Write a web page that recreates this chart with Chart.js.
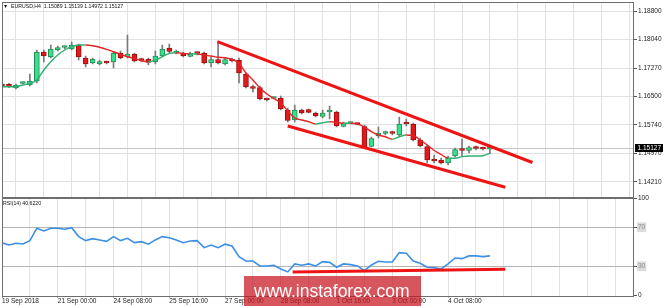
<!DOCTYPE html>
<html>
<head>
<meta charset="utf-8">
<script src="https://cdn.jsdelivr.net/npm/chart.js@4.4.1/dist/chart.umd.min.js"></script>
<style>
  html, body { margin: 0; padding: 0; background: #fff; }
  #wrap { position: relative; width: 664px; height: 307px; overflow: hidden; background: #fff; }
  #price { position: absolute; left: 0; top: 0; }
  #rsi { position: absolute; left: 0; top: 190px; }
</style>
</head>
<body>
<div id="wrap">
  <canvas id="price" width="664" height="198"></canvas>
  <canvas id="rsi" width="664" height="117"></canvas>
</div>
<script>
// EURUSD H4 candles
const symbol = 'EURUSD,H4';
const timeLabels = ['19 Sep 2018', '21 Sep 00:00', '24 Sep 08:00', '25 Sep 16:00', '27 Sep 00:00',
  '28 Sep 08:00', '1 Oct 16:00', '3 Oct 00:00', '4 Oct 08:00'];
const priceTicks = [1.18800, 1.18040, 1.17270, 1.16500, 1.15740, 1.14970, 1.14210];
const rsiTicks = [0, 30, 70, 100];

const open = [1.16840, 1.16830, 1.16733, 1.16854, 1.16813, 1.16921, 1.17699, 1.17565, 1.17753, 1.17820,
  1.17780, 1.17887, 1.17538, 1.17404, 1.17377, 1.17431, 1.17431, 1.17672, 1.17565, 1.17646,
  1.17485, 1.17511, 1.17431, 1.17592, 1.17807, 1.17672, 1.17672, 1.17579, 1.17672, 1.17672,
  1.17404, 1.17498, 1.17377, 1.17498, 1.17485, 1.17109, 1.16760, 1.16746, 1.16424, 1.16451,
  1.16464, 1.16142, 1.15874, 1.16142, 1.16156, 1.16062, 1.15968, 1.16089, 1.16089, 1.15699,
  1.15780, 1.15780, 1.15699, 1.15162, 1.15444, 1.15511, 1.15525, 1.15471, 1.15793, 1.15766,
  1.15337, 1.15162, 1.14800, 1.14800, 1.14719, 1.14907, 1.15082, 1.15055, 1.15122, 1.15109,
  1.15089];
const high = [1.16867, 1.16860, 1.16840, 1.16894, 1.17109, 1.17753, 1.17753, 1.17887, 1.17860, 1.17860,
  1.17968, 1.17914, 1.17592, 1.17538, 1.17485, 1.17458, 1.17699, 1.17726, 1.18156, 1.17672,
  1.17538, 1.17538, 1.17726, 1.17887, 1.17914, 1.17753, 1.17699, 1.17699, 1.17699, 1.17699,
  1.17565, 1.17976, 1.17538, 1.17538, 1.17538, 1.17136, 1.16813, 1.16787, 1.16464, 1.16491,
  1.16518, 1.16196, 1.16277, 1.16169, 1.16169, 1.16089, 1.16142, 1.16250, 1.16115, 1.15820,
  1.15820, 1.15793, 1.15740, 1.15417, 1.15686, 1.15578, 1.15578, 1.15954, 1.15901, 1.15793,
  1.15391, 1.15203, 1.14934, 1.14854, 1.14907, 1.15122, 1.15364, 1.15176, 1.15176, 1.15149,
  1.15139];
const low = [1.16733, 1.16740, 1.16706, 1.16840, 1.16787, 1.16867, 1.17431, 1.17538, 1.17726, 1.17780,
  1.17753, 1.17485, 1.17297, 1.17377, 1.17350, 1.17377, 1.17270, 1.17511, 1.17538, 1.17431,
  1.17431, 1.17350, 1.17377, 1.17565, 1.17672, 1.17646, 1.17565, 1.17565, 1.17619, 1.17377,
  1.17297, 1.17377, 1.17350, 1.17431, 1.16867, 1.16733, 1.16626, 1.16411, 1.16384, 1.16438,
  1.16142, 1.15820, 1.15820, 1.16035, 1.16062, 1.15954, 1.15927, 1.15901, 1.15686, 1.15686,
  1.15766, 1.15740, 1.15122, 1.15149, 1.15391, 1.15471, 1.15471, 1.15444, 1.15713, 1.15310,
  1.15149, 1.14719, 1.14719, 1.14693, 1.14666, 1.14880, 1.14907, 1.14988, 1.15068, 1.15068,
  1.14972];
const close = [1.16760, 1.16770, 1.16813, 1.16867, 1.16921, 1.17699, 1.17592, 1.17780, 1.17820, 1.17834,
  1.17887, 1.17565, 1.17377, 1.17511, 1.17444, 1.17404, 1.17672, 1.17538, 1.17646, 1.17458,
  1.17471, 1.17417, 1.17592, 1.17780, 1.17713, 1.17699, 1.17592, 1.17659, 1.17659, 1.17404,
  1.17498, 1.17404, 1.17498, 1.17458, 1.17136, 1.16760, 1.16719, 1.16438, 1.16411, 1.16464,
  1.16169, 1.15860, 1.16142, 1.16062, 1.16075, 1.15981, 1.16062, 1.16102, 1.15713, 1.15780,
  1.15793, 1.15753, 1.15149, 1.15377, 1.15525, 1.15525, 1.15511, 1.15766, 1.15766, 1.15337,
  1.15176, 1.14800, 1.14773, 1.14719, 1.14854, 1.15082, 1.15055, 1.15136, 1.15109, 1.15095,
  1.15127];

// moving average line drawn on the candles
const ma = [1.16768, 1.16768, 1.16773, 1.16813, 1.16859, 1.16948, 1.17216, 1.17439, 1.17619, 1.17753,
  1.17842, 1.17887, 1.17887, 1.17868, 1.17826, 1.17772, 1.17707, 1.17638, 1.17573, 1.17519,
  1.17466, 1.17439, 1.17485, 1.17573, 1.17664, 1.17681, 1.17664, 1.17646, 1.17646, 1.17619,
  1.17592, 1.17557, 1.17546, 1.17503, 1.17396, 1.17136, 1.16948, 1.16733, 1.16572, 1.16451,
  1.16330, 1.16115, 1.15928, 1.15874, 1.15828, 1.15766, 1.15801, 1.15828, 1.15812, 1.15785,
  1.15785, 1.15766, 1.15686, 1.15560, 1.15471, 1.15425, 1.15356, 1.15425, 1.15471, 1.15458,
  1.15337, 1.15203, 1.15055, 1.14948, 1.14846, 1.14846, 1.14889, 1.14907, 1.14907, 1.14915,
  1.14980];

// RSI(14)
const rsi = [54.0, 51.8, 53.6, 52.9, 56.3, 69.0, 66.2, 69.0, 69.0, 67.9,
  69.6, 60.4, 56.3, 58.3, 57.0, 55.6, 60.4, 56.3, 58.7, 54.2,
  55.2, 52.6, 57.0, 60.4, 59.3, 57.0, 54.2, 55.9, 56.3, 49.1,
  51.8, 49.1, 52.6, 50.8, 39.9, 35.4, 35.4, 30.3, 30.3, 31.0,
  27.2, 24.2, 32.4, 31.0, 32.4, 30.3, 34.7, 34.0, 29.0, 32.4,
  31.7, 30.3, 25.5, 31.3, 35.1, 34.4, 34.4, 44.0, 43.3, 35.4,
  33.1, 29.0, 28.6, 27.2, 32.4, 38.5, 37.8, 40.6, 40.6, 39.9,
  40.622];

// hand-drawn trend lines (x = bar index)
const upperChannel = [{ x: 30.9, y: 1.17976 }, { x: 76.1, y: 1.14733 }];
const lowerChannel = [{ x: 41.0, y: 1.15713 }, { x: 72.2, y: 1.14067 }];
const rsiSupport = [{ x: 41.7, y: 24.2 }, { x: 72.2, y: 26.9 }];

const last = close.length - 1;
const idx = close.map((_, i) => i);
const gridIdx = [];
for (let i = 0; i <= 88; i += 4) gridIdx.push(i);

const font = { family: '"Liberation Sans", Arial, sans-serif', size: 6.5 };
const smallFont = '5.2px "Liberation Sans", Arial, sans-serif';
const gridColor = '#e2e2e2';
const bull = '#37e08c', bullEdge = '#1f8c52';
const bear = '#e3191c', bearEdge = '#9c0d0f';

const noPad = s => { s.paddingTop = 0; s.paddingBottom = 0; s.paddingLeft = 0; s.paddingRight = 0; };

function drawFrame(chart) {
  const { ctx, chartArea: a } = chart;
  ctx.save();
  ctx.strokeStyle = '#6e6e6e';
  ctx.lineWidth = 1;
  ctx.strokeRect(Math.floor(a.left) + 0.5, Math.floor(a.top) + 0.5,
    Math.round(a.right - a.left) - 1, Math.round(a.bottom - a.top));
  ctx.restore();
}

const priceDecor = {
  id: 'priceDecor',
  beforeDatasetsDraw(chart) {
    const { ctx, chartArea: a } = chart;
    const y = Math.round(chart.scales.y.getPixelForValue(close[last])) + 0.5;
    ctx.save();
    ctx.strokeStyle = '#c4c4c4';
    ctx.beginPath();
    ctx.moveTo(a.left, y);
    ctx.lineTo(a.right, y);
    ctx.stroke();
    ctx.restore();
  },
  afterDraw(chart) {
    const { ctx, chartArea: a } = chart;
    drawFrame(chart);
    ctx.save();
    ctx.fillStyle = '#111';
    ctx.textBaseline = 'middle';
    ctx.font = smallFont;
    ctx.fillText('▼', 3, 6.5);
    const ohlc = [open[last], high[last], low[last], close[last]].map(v => v.toFixed(5)).join(' ');
    ctx.fillText(symbol + '  ' + ohlc, 11, 6.5);
    // last price marker
    const y = chart.scales.y.getPixelForValue(close[last]);
    ctx.fillStyle = '#000';
    ctx.fillRect(a.right + 1, Math.round(y) - 4, 28, 8);
    ctx.fillStyle = '#fff';
    ctx.font = font.size + 'px ' + font.family;
    ctx.fillText(close[last].toFixed(5), a.right + 3.5, y + 0.5);
    ctx.restore();
  }
};

new Chart(document.getElementById('price'), {
  type: 'bar',
  data: {
    datasets: [
      {
        type: 'bar',
        data: idx.map(i => ({ x: i, y: [low[i], high[i]] })),
        backgroundColor: '#7a7a7a',
        barThickness: 1,
        grouped: false,
        order: 4
      },
      {
        type: 'bar',
        data: idx.map(i => ({ x: i, y: [open[i], close[i]] })),
        backgroundColor: idx.map(i => close[i] >= open[i] ? bull : bear),
        borderColor: idx.map(i => close[i] >= open[i] ? bullEdge : bearEdge),
        borderWidth: 1,
        borderSkipped: false,
        minBarLength: 2,
        barThickness: 5,
        grouped: false,
        order: 3
      },
      {
        type: 'line',
        data: idx.map(i => ({ x: i, y: ma[i] })),
        borderColor: '#e62222',
        borderWidth: 1.4,
        pointRadius: 0,
        cubicInterpolationMode: 'monotone',
        segment: {
          borderColor: c => c.p1.parsed.y >= c.p0.parsed.y ? '#2fb070' : '#e62222'
        },
        order: 2
      },
      {
        type: 'line',
        data: upperChannel,
        borderColor: '#ee1414',
        borderWidth: 3,
        pointRadius: 0,
        order: 1
      },
      {
        type: 'line',
        data: lowerChannel,
        borderColor: '#ee1414',
        borderWidth: 3,
        pointRadius: 0,
        order: 1
      }
    ]
  },
  options: {
    responsive: false,
    animation: false,
    devicePixelRatio: 1,
    layout: { padding: { top: 2, left: 2, right: 0, bottom: 0 } },
    plugins: { legend: { display: false }, tooltip: { enabled: false } },
    scales: {
      x: {
        type: 'linear',
        min: 0,
        max: 90.67,
        offset: false,
        ticks: { display: false },
        grid: { color: gridColor, drawTicks: false },
        border: { display: false },
        afterBuildTicks: s => { s.ticks = gridIdx.map(v => ({ value: v })); },
        afterFit: s => { s.height = 1.5; noPad(s); }
      },
      y: {
        position: 'right',
        min: 1.13820,
        max: 1.19042,
        ticks: { font: font, color: '#222', padding: 1, callback: v => Number(v).toFixed(5) },
        grid: { color: gridColor, tickLength: 3, tickColor: '#555' },
        border: { display: false },
        afterBuildTicks: s => { s.ticks = priceTicks.map(v => ({ value: v })); },
        afterFit: s => { s.width = 30; noPad(s); }
      }
    }
  },
  plugins: [priceDecor]
});

const rsiDecor = {
  id: 'rsiDecor',
  afterDraw(chart) {
    const { ctx } = chart;
    drawFrame(chart);
    ctx.save();
    ctx.fillStyle = '#111';
    ctx.textBaseline = 'middle';
    ctx.font = smallFont;
    ctx.fillText('RSI(14) ' + rsi[last].toFixed(4), 3, 14);
    // site watermark
    ctx.fillStyle = 'rgba(200, 20, 30, 0.72)';
    ctx.fillRect(244, 86, 177, 30);
    ctx.fillStyle = '#fff';
    ctx.textBaseline = 'alphabetic';
    ctx.font = '17.5px "Liberation Sans", Arial, sans-serif';
    ctx.fillText('www.instaforex.com', 254, 107);
    ctx.restore();
  }
};

new Chart(document.getElementById('rsi'), {
  type: 'line',
  data: {
    datasets: [
      {
        data: idx.map(i => ({ x: i, y: rsi[i] })),
        borderColor: '#3d8fe6',
        borderWidth: 1.6,
        pointRadius: 0,
        tension: 0,
        order: 2
      },
      {
        data: rsiSupport,
        borderColor: '#ee1414',
        borderWidth: 3,
        pointRadius: 0,
        order: 1
      }
    ]
  },
  options: {
    responsive: false,
    animation: false,
    devicePixelRatio: 1,
    layout: { padding: { top: 8, left: 2, right: 0, bottom: 0 } },
    plugins: { legend: { display: false }, tooltip: { enabled: false } },
    scales: {
      x: {
        type: 'linear',
        min: 0,
        max: 90.67,
        offset: false,
        ticks: {
          font: font,
          color: '#222',
          align: 'start',
          padding: 0,
          autoSkip: false,
          maxRotation: 0,
          minRotation: 0,
          callback: v => (v % 8 === 0 && timeLabels[v / 8]) ? timeLabels[v / 8] : ''
        },
        grid: {
          color: gridColor,
          tickLength: 2,
          tickColor: c => (c.tick && c.tick.value % 8 === 0 && timeLabels[c.tick.value / 8]) ? '#555' : 'rgba(0,0,0,0)'
        },
        border: { display: false },
        afterBuildTicks: s => { s.ticks = gridIdx.map(v => ({ value: v })); },
        afterFit: s => { s.height = 11.5; noPad(s); }
      },
      y: {
        position: 'right',
        min: 0,
        max: 100,
        ticks: {
          font: font,
          padding: 1,
          color: c => (c.tick.value === 30 || c.tick.value === 70) ? '#8a8a8a' : '#222',
          showLabelBackdrop: true,
          backdropColor: c => (c.tick.value === 30 || c.tick.value === 70) ? '#dcdcdc' : 'rgba(0,0,0,0)',
          backdropPadding: 1,
          callback: v => String(v)
        },
        grid: {
          color: c => (c.tick.value === 30 || c.tick.value === 70) ? '#b4b4b4' : 'rgba(0,0,0,0)',
          tickLength: 3,
          tickColor: '#555'
        },
        border: { display: false },
        afterBuildTicks: s => { s.ticks = rsiTicks.map(v => ({ value: v })); },
        afterFit: s => { s.width = 30; noPad(s); }
      }
    }
  },
  plugins: [rsiDecor]
});
</script>
</body>
</html>
